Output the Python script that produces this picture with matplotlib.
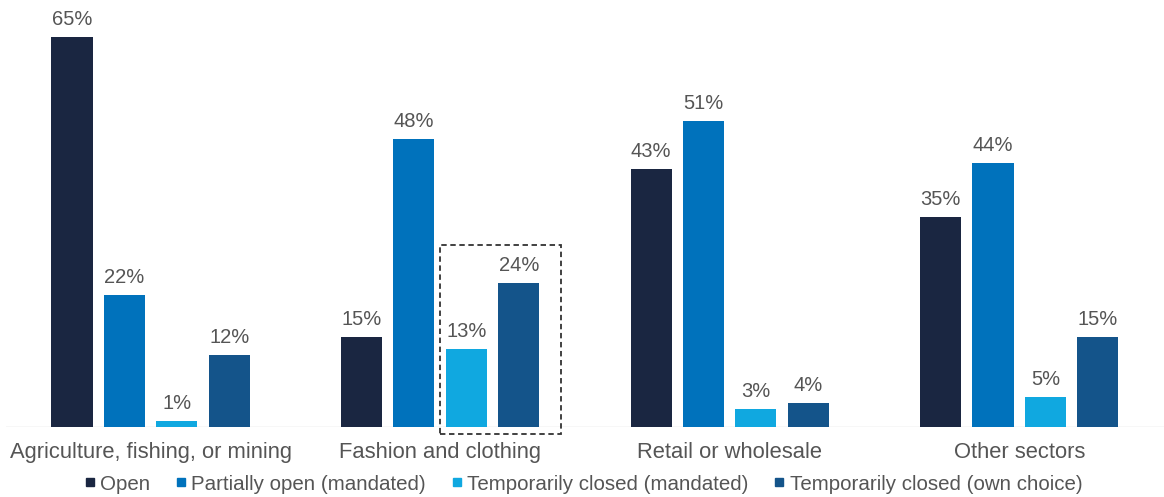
import matplotlib
matplotlib.use("Agg")
import matplotlib.pyplot as plt
import numpy as np
from matplotlib.patches import Rectangle
from matplotlib.lines import Line2D

plt.rcParams["font.family"] = ["Liberation Sans", "DejaVu Sans"]

# sector categories and share of businesses by operating status
sectors = ["Agriculture, fishing, or mining", "Fashion and clothing",
           "Retail or wholesale", "Other sectors"]
statuses = ["Open", "Partially open (mandated)", "Temporarily closed (mandated)",
            "Temporarily closed (own choice)"]
open_pct = [65, 15, 43, 35]
partial_pct = [22, 48, 51, 44]
closed_mandated_pct = [1, 13, 3, 5]
closed_choice_pct = [12, 24, 4, 15]

colors = ["#1a2641", "#0072bc", "#10a8e0", "#14548a"]
text_gray = "#555555"

series = [open_pct, partial_pct, closed_mandated_pct, closed_choice_pct]

fig = plt.figure(figsize=(11.64, 4.97), dpi=100)
ax = fig.add_axes([0.005, 0.141, 0.995, 0.859])

x = np.arange(len(sectors))
width = 0.142
step = 0.181
offsets = (np.arange(4) - 1.5) * step

for vals, off, col in zip(series, offsets, colors):
    bars = ax.bar(x + off, vals, width, color=col, zorder=2)
    for b, v in zip(bars, vals):
        ax.text(b.get_x() + b.get_width() / 2, v + 1.3, f"{v}%",
                ha="center", va="bottom", fontsize=14.5, color=text_gray)

ax.set_xlim(-0.5, 3.5)
ax.set_ylim(0, 71.2)
ax.axhline(0, color="#d9d9d9", lw=1, zorder=1)

# highlight closures in fashion and clothing
box = Rectangle((1.0, -1.2), 0.417, 31.5, fill=False, ls=(0, (3, 2)),
                lw=1.3, edgecolor="#333333", clip_on=False, zorder=3)
ax.add_patch(box)

ax.set_xticks(x)
ax.set_xticklabels(sectors, fontsize=15.8, color=text_gray)
ax.tick_params(axis="x", length=0, pad=11)
ax.set_yticks([])
for s in ax.spines.values():
    s.set_visible(False)

handles = [Line2D([0], [0], marker="s", ls="", markersize=6, color=c) for c in colors]
fig.legend(handles, statuses, loc="center", bbox_to_anchor=(0.5, 0.026), ncol=4,
           frameon=False, fontsize=14.8, handletextpad=0.1, columnspacing=1.1,
           labelcolor=text_gray, handlelength=0.8)

fig.savefig("out.png", dpi=100)
